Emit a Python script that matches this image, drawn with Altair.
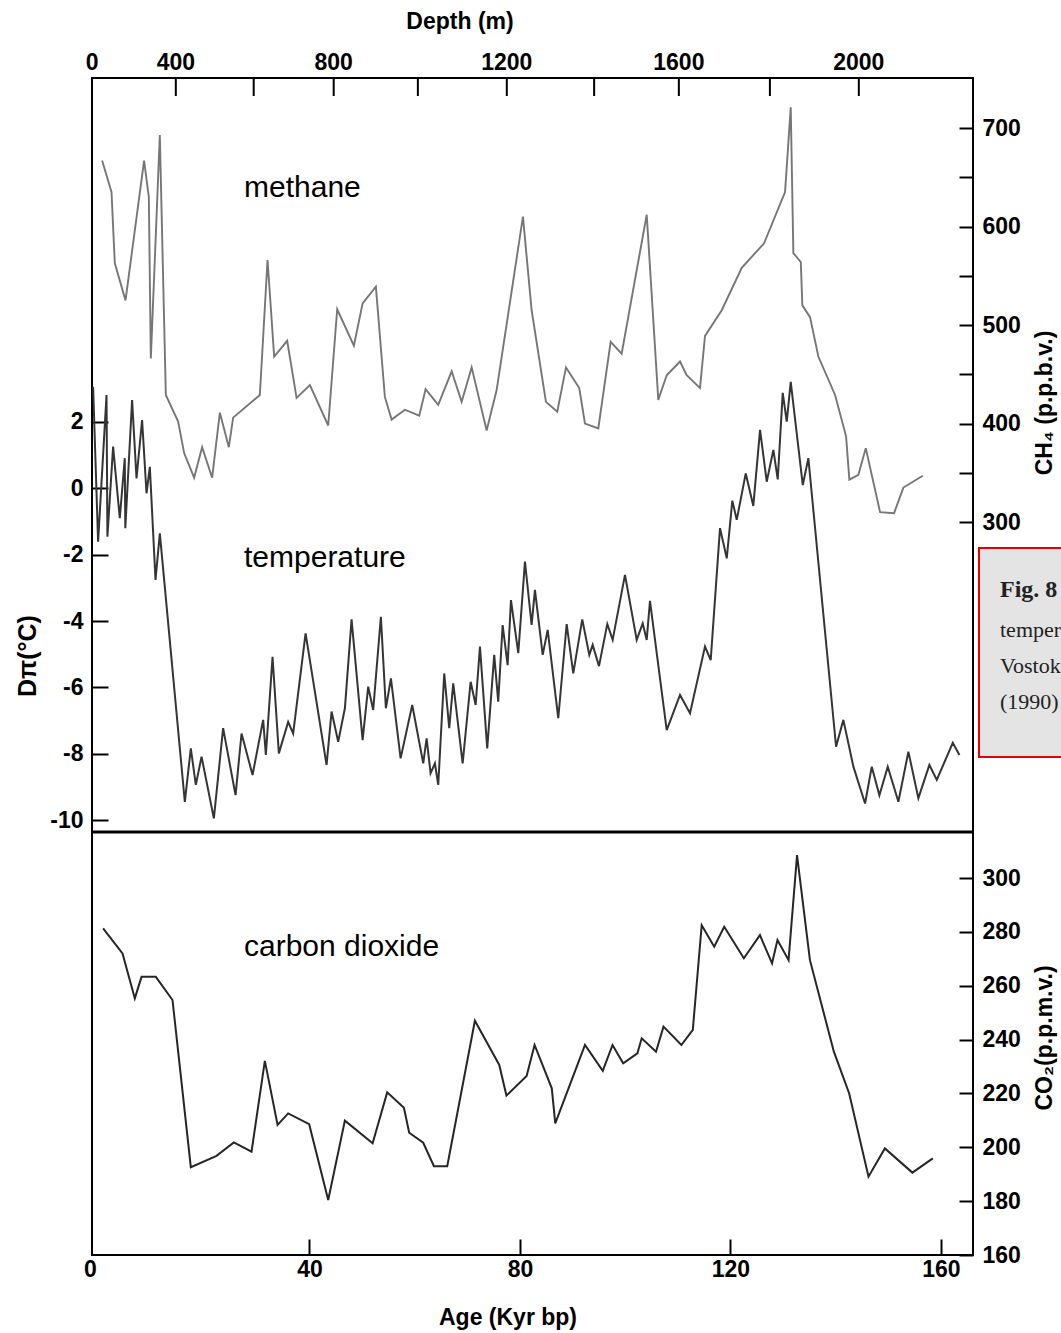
import altair as alt
import pandas as pd

# ---------------- data ----------------
ch4_age = [0.59, 2.38, 3.0, 5.04, 8.57, 9.47, 9.85, 11.56, 12.7, 15.04,
           16.18, 18.08, 19.6, 21.5, 22.97, 24.68, 25.49, 30.57, 32.03, 33.29,
           35.76, 37.55, 40.08, 43.56, 45.27, 48.44, 50.1, 52.62, 54.33, 55.61,
           58.14, 60.86, 62.07, 64.47, 67.02, 68.92, 70.82, 73.67, 75.57, 80.57,
           82.22, 84.94, 87.09, 88.75, 91.27, 92.36, 94.89, 97.24, 99.33, 104.09,
           106.29, 107.89, 110.42, 111.69, 114.22, 115.17, 118.35, 122.15, 126.39, 130.38,
           131.46, 131.96, 133.37, 133.67, 135.13, 136.71, 139.89, 141.98, 142.6, 144.31,
           145.72, 148.44, 151.1, 152.87, 156.56]
ch4_ppbv = [667, 635, 563, 525, 667, 630, 466, 693, 429, 402,
            370, 345, 376, 345, 411, 376, 406, 429, 566, 468,
            484, 426, 439, 398, 516, 479, 522, 539, 427, 404,
            414, 408, 435, 419, 453, 422, 457, 393, 434, 610,
            515, 422, 412, 457, 436, 400, 395, 483, 471, 612,
            424, 449, 463, 449, 436, 489, 515, 558, 583, 635,
            721, 573, 564, 520, 508, 468, 429, 387, 343, 348,
            375, 310, 309, 335, 347]

temp_age = [-1.12, -0.17, 1.43, 1.6, 2.68, 3.95, 4.9, 5.0, 6.29, 7.13,
            8.19, 9.03, 9.66, 10.74, 11.56, 16.31, 17.45, 18.4, 19.49, 21.83,
            23.59, 25.95, 27.09, 29.18, 31.2, 31.71, 32.98, 34.18, 35.95, 36.9,
            39.26, 43.25, 44.2, 45.46, 46.73, 48.0, 50.1, 51.16, 52.11, 53.57,
            54.52, 55.48, 57.32, 59.53, 61.62, 62.26, 63.02, 63.84, 64.47, 65.61,
            66.56, 67.32, 69.11, 70.63, 71.58, 72.4, 73.78, 75.11, 75.87, 76.71,
            77.66, 78.29, 79.68, 80.95, 82.22, 82.85, 84.32, 85.27, 87.28, 88.88,
            90.13, 91.84, 93.18, 93.82, 95.02, 96.6, 97.62, 99.96, 102.19, 103.33,
            104.09, 104.71, 107.89, 110.42, 112.32, 115.17, 116.25, 118.02, 119.3, 120.36,
            121.2, 122.91, 124.35, 125.63, 126.9, 128.16, 128.99, 129.94, 130.7, 131.46,
            133.75, 134.81, 140.08, 141.46, 143.37, 145.59, 146.86, 148.31, 149.9, 151.92,
            153.82, 155.72, 157.81, 159.22, 162.26, 163.52]
temp_dc = [3.06, -1.61, 2.81, -1.46, 1.26, -0.90, 0.91, -1.20, 2.66, 0.30,
           2.06, -0.15, 0.65, -2.76, -1.36, -9.45, -7.84, -8.94, -8.09, -9.95,
           -7.23, -9.25, -7.39, -8.64, -6.98, -8.04, -5.08, -7.99, -7.04, -7.39,
           -4.37, -8.34, -6.73, -7.64, -6.63, -3.95, -7.59, -5.98, -6.68, -3.87,
           -6.63, -5.73, -8.14, -6.53, -8.29, -7.54, -8.59, -8.29, -8.94, -5.58,
           -7.23, -5.88, -8.29, -5.83, -6.53, -4.77, -7.84, -5.02, -6.43, -4.12,
           -5.33, -3.37, -4.97, -2.21, -4.12, -3.06, -5.02, -4.27, -6.93, -4.09,
           -5.58, -3.95, -5.02, -4.72, -5.36, -4.09, -4.57, -2.61, -4.57, -4.07,
           -4.57, -3.39, -7.29, -6.23, -6.78, -4.77, -5.18, -1.20, -2.11, -0.37,
           -0.95, 0.45, -0.53, 1.76, 0.20, 1.16, 0.27, 2.88, 2.01, 3.21,
           0.10, 0.91, -7.79, -6.98, -8.39, -9.50, -8.39, -9.25, -8.39, -9.45,
           -7.94, -9.34, -8.34, -8.79, -7.67, -8.04]

co2_age = [0.78, 4.47, 6.81, 8.08, 10.8, 13.97, 17.45, 22.34, 25.63, 28.99,
           31.52, 33.94, 35.95, 39.94, 43.56, 46.73, 52.0, 54.77, 57.95, 58.95,
           61.62, 63.65, 66.18, 71.44, 76.07, 77.43, 81.27, 82.78, 86.05, 86.71,
           92.36, 95.74, 97.59, 99.62, 102.32, 103.14, 105.86, 107.28, 110.68, 112.85,
           114.54, 116.92, 118.82, 122.55, 125.61, 127.91, 128.94, 131.05, 132.66, 135.11,
           139.66, 142.57, 146.24, 149.35, 154.58, 158.46]
co2_ppmv = [281.3, 272.0, 255.3, 263.3, 263.3, 254.7, 192.6, 196.8, 201.8, 198.4,
            232.1, 208.3, 212.6, 208.6, 180.4, 209.9, 201.5, 220.4, 214.7, 205.4,
            201.7, 193.0, 193.0, 247.0, 230.6, 219.2, 226.5, 238.0, 221.9, 208.9,
            238.0, 228.4, 238.0, 231.2, 234.9, 240.5, 235.5, 244.8, 238.0, 243.6,
            282.5, 274.5, 281.9, 270.2, 278.8, 268.3, 277.0, 269.5, 308.5, 269.5,
            235.5, 220.0, 189.1, 199.6, 190.6, 195.9]

# depth (m) of the top axis and the age (kyr bp) it corresponds to
depth_m = [0, 400, 600, 800, 1000, 1200, 1400, 1600, 1800, 2000]
depth_age = [-1.3, 14.6, 29.4, 44.6, 60.6, 77.5, 94.1, 110.2, 127.5, 144.4]

age_ticks = [0, 40, 80, 120, 160]
temp_ticks = [-10, -8, -6, -4, -2, 0, 2]
ch4_ticks = [300, 350, 400, 450, 500, 550, 600, 650, 700]
co2_ticks = [160, 180, 200, 220, 240, 260, 280, 300]

# ---------------- layout ----------------
W, H = 881, 1177
SPLIT = 754
FONT = "Liberation Sans"
LBL = 23

ch4_df = pd.DataFrame({"age": ch4_age, "v": ch4_ppbv, "i": range(len(ch4_age))})
temp_df = pd.DataFrame({"age": temp_age, "v": temp_dc, "i": range(len(temp_age))})
co2_df = pd.DataFrame({"age": co2_age, "v": co2_ppmv, "i": range(len(co2_age))})
depth_df = pd.DataFrame({"age": depth_age, "depth": depth_m})
depth_df["label"] = [str(d) if d % 400 == 0 else "" for d in depth_m]

xscale = alt.Scale(domain=[-1.33, 166.1], nice=False, zero=False)
xaxis = alt.Axis(orient="bottom", values=age_ticks, title=None, domain=False, grid=False,
                 offset=-16, tickSize=16, tickWidth=2,
                 tickColor={"condition": {"test": "datum.value === 0", "value": "transparent"},
                            "value": "black"},
                 labelOffset={"condition": {"test": "datum.value === 0", "value": -9},
                              "value": 0},
                 labelFont=FONT, labelFontSize=LBL, labelFontWeight="bold", labelColor="black",
                 labelPadding=3, labelFlush=False, labelOverlap=False)
X = alt.X("age:Q", scale=xscale, axis=xaxis)


def yaxis(orient, values, expr, off):
    return alt.Axis(orient=orient, values=values, title=None, domain=False, grid=False,
                    offset=off, tickSize=-off, tickWidth=2, tickColor="black",
                    labelFont=FONT, labelFontSize=LBL, labelFontWeight="bold",
                    labelColor="black", labelPadding=9, labelExpr=expr, labelOverlap=False)


methane = alt.Chart(ch4_df).mark_line(color="#767676", strokeWidth=1.9).encode(
    x=X,
    y=alt.Y("v:Q", scale=alt.Scale(domain=[-14.7, 750.8], range=[SPLIT, 0], nice=False, zero=False),
            axis=yaxis("right", ch4_ticks,
                       "datum.value % 100 == 0 ? toString(datum.value) : ''", -14)),
    order="i:Q",
)

temperature = alt.Chart(temp_df).mark_line(color="#353535", strokeWidth=2).encode(
    x=X,
    y=alt.Y("v:Q", scale=alt.Scale(domain=[-10.36, 12.37], range=[SPLIT, 0], nice=False, zero=False),
            axis=yaxis("left", temp_ticks, "toString(datum.value)", -16)),
    order="i:Q",
)

co2 = alt.Chart(co2_df).mark_line(color="#262626", strokeWidth=2).encode(
    x=X,
    y=alt.Y("v:Q", scale=alt.Scale(domain=[160, 317.1], range=[H, SPLIT], nice=False, zero=False),
            axis=yaxis("right", co2_ticks, "toString(datum.value)", -14)),
    order="i:Q",
)

depth_ticks = alt.Chart(depth_df[depth_df["depth"] > 0]).mark_rule(
    color="black", strokeWidth=2).encode(x=X, y=alt.value(0), y2=alt.value(18))

depth_labels = alt.Chart(depth_df).mark_text(
    font=FONT, fontSize=LBL, fontWeight="bold", color="black", baseline="middle"
).encode(x=X, y=alt.value(-15), text="label:N")

divider = alt.Chart(pd.DataFrame({"k": [0]})).mark_rule(color="black", strokeWidth=3).encode(
    x=alt.value(0), x2=alt.value(W), y=alt.value(SPLIT))


def label(txt, x, y, size=30, weight="normal", angle=0, align="left", font=FONT, color="black"):
    return alt.Chart(pd.DataFrame({"t": [txt]})).mark_text(
        font=font, fontSize=size, fontWeight=weight, angle=angle, align=align,
        baseline="middle", color=color
    ).encode(text="t:N", x=alt.value(x), y=alt.value(y))


annotations = [
    label("methane", 152, 110),
    label("temperature", 152, 480),
    label("carbon dioxide", 152, 869),
    label("Depth (m)", 368, -56, size=LBL, weight="bold", align="center"),
    label("Age (Kyr bp)", 416, 1240, size=LBL, weight="bold", align="center"),
    label("Dπ(°C)", -64, 578, size=25, weight="bold", angle=270, align="center"),
    label("CH₄ (p.p.b.v.)", 953, 325, size=23, weight="bold", angle=270, align="center"),
    label("CO₂(p.p.m.v.)", 953, 960, size=23, weight="bold", angle=270, align="center"),
]

caption_box = alt.Chart(pd.DataFrame({"k": [0]})).mark_rect(
    fill="#e4e4e4", stroke="#e00000", strokeWidth=2).encode(
    x=alt.value(887), x2=alt.value(1010), y=alt.value(470), y2=alt.value(679))

SERIF = "Liberation Serif"
caption = [
    label("Fig. 8", 908, 512, size=24, weight="bold", font=SERIF, color="#222"),
    label("temperature", 908, 552, size=22, font=SERIF, color="#222"),
    label("Vostok", 908, 588, size=22, font=SERIF, color="#222"),
    label("(1990)", 908, 624, size=22, font=SERIF, color="#222"),
]

chart = alt.layer(
    caption_box, *caption,
    methane, temperature, co2, depth_ticks, depth_labels, divider, *annotations
).resolve_scale(y="independent").resolve_axis(y="independent").properties(
    width=W, height=H,
    padding={"left": 92, "top": 78, "right": 88, "bottom": 78},
    autosize=alt.AutoSizeParams(type="none"),
    background="white",
).configure_view(stroke="black", strokeWidth=2)

chart.save("out.html", embed_options={"renderer": "svg", "actions": False})
